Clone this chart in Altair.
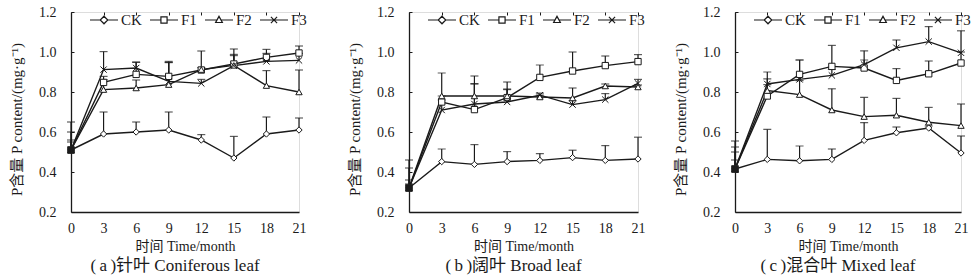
import altair as alt
import pandas as pd

months = [0, 3, 6, 9, 12, 15, 18, 21]
series_names = ["CK", "F1", "F2", "F3"]
tick_y = [0.2, 0.4, 0.6, 0.8, 1.0, 1.2]

# (a) Coniferous leaf
a_ck = [0.51, 0.59, 0.60, 0.61, 0.56, 0.47, 0.59, 0.61]
a_ck_sd = [0.05, 0.11, 0.05, 0.09, 0.027, 0.108, 0.085, 0.06]
a_f1 = [0.51, 0.848, 0.888, 0.878, 0.91, 0.94, 0.973, 0.995]
a_f1_sd = [0.09, 0.03, 0.06, 0.07, 0.095, 0.075, 0.04, 0.035]
a_f2 = [0.51, 0.812, 0.82, 0.837, 0.912, 0.933, 0.832, 0.80]
a_f2_sd = [0.14, 0.05, 0.04, 0.11, 0.01, 0.055, 0.075, 0.11]
a_f3 = [0.51, 0.912, 0.92, 0.853, 0.843, 0.932, 0.953, 0.958]
a_f3_sd = [0.04, 0.09, 0.03, 0.10, 0.02, 0.05, 0.04, 0.035]

# (b) Broad leaf
b_ck = [0.32, 0.452, 0.438, 0.452, 0.458, 0.472, 0.458, 0.465]
b_ck_sd = [0.14, 0.063, 0.099, 0.05, 0.034, 0.037, 0.074, 0.109]
b_f1 = [0.32, 0.75, 0.712, 0.772, 0.873, 0.905, 0.932, 0.952]
b_f1_sd = [0.10, 0.03, 0.13, 0.04, 0.062, 0.095, 0.048, 0.035]
b_f2 = [0.32, 0.78, 0.78, 0.78, 0.775, 0.77, 0.83, 0.825]
b_f2_sd = [0.04, 0.115, 0.10, 0.07, 0.01, 0.05, 0.01, 0.01]
b_f3 = [0.32, 0.71, 0.74, 0.75, 0.784, 0.737, 0.762, 0.843]
b_f3_sd = [0.02, 0.05, 0.10, 0.065, 0.01, 0.02, 0.03, 0.02]

# (c) Mixed leaf
c_ck = [0.415, 0.463, 0.456, 0.463, 0.558, 0.596, 0.62, 0.495]
c_ck_sd = [0.045, 0.15, 0.074, 0.052, 0.089, 0.029, 0.01, 0.085]
c_f1 = [0.415, 0.78, 0.888, 0.928, 0.92, 0.858, 0.891, 0.945]
c_f1_sd = [0.14, 0.086, 0.072, 0.105, 0.04, 0.059, 0.064, 0.055]
c_f2 = [0.415, 0.807, 0.787, 0.71, 0.677, 0.684, 0.649, 0.632]
c_f2_sd = [0.11, 0.03, 0.07, 0.106, 0.096, 0.084, 0.074, 0.108]
c_f3 = [0.415, 0.84, 0.863, 0.883, 0.937, 1.021, 1.052, 0.996]
c_f3_sd = [0.085, 0.06, 0.097, 0.03, 0.069, 0.039, 0.075, 0.11]

captions = ["(\u2009a\u2009)针叶 Coniferous leaf",
            "(\u2009b\u2009)阔叶 Broad leaf",
            "(\u2009c\u2009)混合叶 Mixed leaf"]
x_title = "时间 Time/month"
y_title = "P含量 P content/(mg·g⁻¹)"

FONT = "Liberation Serif, Times New Roman, Noto Sans CJK SC"
INK = "#1a1a1a"

marker_shapes = {
    "CK": "diamond",
    "F1": "square",
    "F2": "triangle-up",
    "F3": "M-1,-1L1,1M-1,1L1,-1",
}
legend_paths = [
    "M-1,0H-0.27M0.27,0H1M0,-0.27L0.27,0L0,0.27L-0.27,0Z",
    "M-1,0H-0.22M0.22,0H1M-0.22,-0.22H0.22V0.22H-0.22Z",
    "M-1,0H-0.13M0.13,0H1M0,-0.26L0.24,0.18H-0.24Z",
    "M-1,0H1M-0.22,-0.22L0.22,0.22M-0.22,0.22L0.22,-0.22",
]


def make_df(groups):
    rows = []
    for name, (means, sds) in zip(series_names, groups):
        for m, v, s in zip(months, means, sds):
            rows.append({"month": m, "series": name, "mean": v, "top": v + s})
    return pd.DataFrame(rows)


def panel(df, caption, width, extra_right=None):
    xenc = alt.X("month:Q", scale=alt.Scale(domain=[0, 21], nice=False, zero=False),
                 axis=alt.Axis(values=months, title=x_title, labelFontSize=14,
                               titleFontSize=14, labelPadding=9, titlePadding=4,
                               labelFont=FONT, titleFont=FONT, titleFontWeight="normal",
                               labelColor=INK, titleColor=INK,
                               domainColor=INK, domainWidth=1.3,
                               ticks=False, grid=True, gridDash=[3, 1000],
                               gridColor=INK, gridWidth=1, gridOpacity=1,
                               labelFlush=False))
    yaxis = alt.Axis(values=tick_y, format=".1f", title=y_title, labelFontSize=14,
                     titleFontSize=15, labelPadding=15, ticks=False, grid=True,
                     labelFont=FONT, titleFont=FONT, titleFontWeight="normal",
                     labelColor=INK, titleColor=INK,
                     domainColor=INK, domainWidth=1.3,
                     gridDash=[3, 1000], gridColor=INK, gridWidth=1, gridOpacity=1,
                     titleX=-55, titleY=107, titleAngle=270, titleBaseline="middle",
                     labelFlush=False)
    yscale = alt.Scale(domain=[0.2, 1.2], nice=False, zero=False)
    ymean = alt.Y("mean:Q", scale=yscale, axis=yaxis)
    ytop = alt.Y("top:Q", scale=yscale, axis=yaxis)

    base = alt.Chart(df)
    lines = base.mark_line(color=INK, strokeWidth=1.4).encode(
        x=xenc, y=ymean, detail="series:N")
    rules = base.mark_rule(color=INK, strokeWidth=1.2).encode(
        x=xenc, y=ymean, y2="top:Q")
    caps = base.mark_tick(color=INK, orient="horizontal", size=8, thickness=1.2).encode(
        x=xenc, y=ytop)
    layers = [lines, rules, caps]
    for name in series_names:
        layers.append(
            base.transform_filter(alt.datum.series == name)
            .mark_point(shape=marker_shapes[name], size=40, filled=False,
                        fill="white", fillOpacity=1, stroke=INK, strokeWidth=1,
                        opacity=1)
            .encode(x=xenc, y=ymean))
    zero_sq = base.transform_filter((alt.datum.month == 0) & (alt.datum.series == "CK")) \
        .mark_square(color=INK, size=50, opacity=1).encode(x=xenc, y=ymean)
    layers.append(zero_sq)
    legend_layer = base.transform_filter(alt.datum.month == 0).mark_point(opacity=0).encode(
        x=xenc, y=ymean,
        shape=alt.Shape("series:N",
                        scale=alt.Scale(domain=series_names, range=legend_paths),
                        legend=alt.Legend(orient="none", legendX=18, legendY=-7,
                                          direction="horizontal", title=None,
                                          symbolSize=784, symbolStrokeColor=INK,
                                          symbolFillColor="white", symbolStrokeWidth=1.2,
                                          symbolOpacity=1, labelFont=FONT,
                                          labelFontSize=15, labelColor=INK,
                                          labelOffset=2, columnPadding=5,
                                          symbolType="circle")))
    layers.append(legend_layer)
    if extra_right is not None:
        pad_layer = base.transform_filter((alt.datum.month == 21) & (alt.datum.series == "CK")) \
            .mark_text(text="M", align="left", dx=extra_right, opacity=0, fontSize=10) \
            .encode(x=xenc, y=ymean)
        layers.append(pad_layer)
    return alt.layer(*layers).properties(
        width=width, height=200,
        title=alt.TitleParams(caption, orient="bottom", fontSize=17, font=FONT,
                              fontWeight="normal", color=INK, dx=-10, offset=5))


df_a = make_df([(a_ck, a_ck_sd), (a_f1, a_f1_sd), (a_f2, a_f2_sd), (a_f3, a_f3_sd)])
df_b = make_df([(b_ck, b_ck_sd), (b_f1, b_f1_sd), (b_f2, b_f2_sd), (b_f3, b_f3_sd)])
df_c = make_df([(c_ck, c_ck_sd), (c_f1, c_f1_sd), (c_f2, c_f2_sd), (c_f3, c_f3_sd)])

chart = alt.hconcat(
    panel(df_a, captions[0], 228, extra_right=12),
    panel(df_b, captions[1], 229),
    panel(df_c, captions[2], 226),
    spacing=26,
).resolve_scale(shape="independent").resolve_legend(shape="independent").properties(
    padding={"left": 8, "top": 4, "right": 2, "bottom": 2}
).configure_view(stroke=None).configure(background="white")

chart.save("out.html", embed_options={"renderer": "svg", "actions": False})
